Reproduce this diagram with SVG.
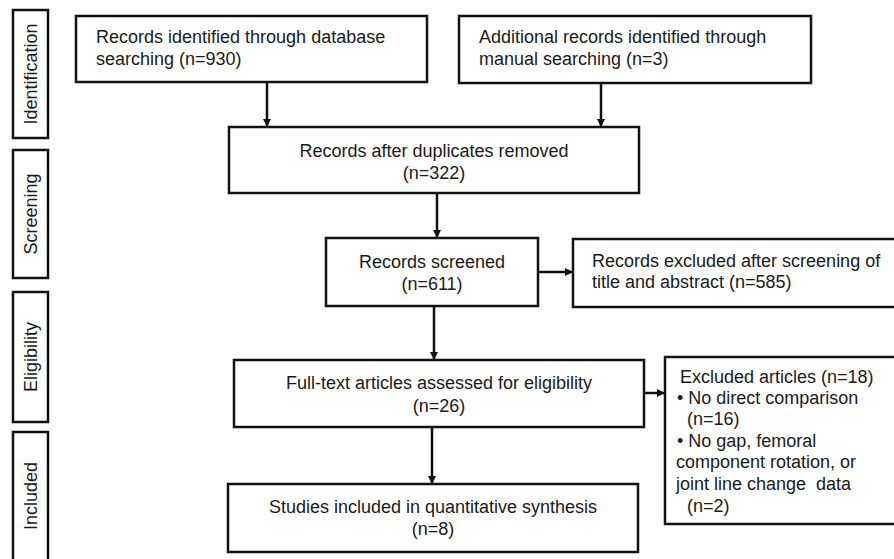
<svg xmlns="http://www.w3.org/2000/svg" width="894" height="559" viewBox="0 0 894 559">
<defs>
<style>
.box{fill:#fff;stroke:#111;stroke-width:2.5}
.side{fill:#fff;stroke:#111;stroke-width:2.5}
text{font-family:"Liberation Sans",Arial,sans-serif;font-size:18px;fill:#1a1a1a}
.c{text-anchor:middle}
.conn line{stroke:#111;stroke-width:2.5}
</style>
<marker id="ah" viewBox="0 0 10 10" refX="10" refY="5" markerWidth="8" markerHeight="8" markerUnits="userSpaceOnUse" orient="auto">
<path d="M0,0 L10,5 L0,10 z" fill="#111"/>
</marker>
</defs>
<rect width="894" height="559" fill="#fff"/>
<g id="stage-identification">
<rect class="side" x="13" y="10" width="35" height="128"/>
<text class="c" transform="translate(37,74) rotate(-90)">Identification</text>
</g>
<g id="stage-screening">
<rect class="side" x="13" y="150" width="35" height="128"/>
<text class="c" transform="translate(37,214) rotate(-90)">Screening</text>
</g>
<g id="stage-eligibility">
<rect class="side" x="13" y="292" width="35" height="130"/>
<text class="c" transform="translate(37,357) rotate(-90)">Eligibility</text>
</g>
<g id="stage-included">
<rect class="side" x="13" y="432" width="35" height="140"/>
<text class="c" transform="translate(37,496) rotate(-90)">Included</text>
</g>
<g id="n-database">
<rect class="box" x="76" y="16" width="351" height="66"/>
<text x="96" y="43">Records identified through database</text>
<text x="96" y="65">searching (n=930)</text>
</g>
<g id="n-manual">
<rect class="box" x="459" y="16" width="352" height="67"/>
<text x="479" y="43">Additional records identified through</text>
<text x="479" y="65">manual searching (n=3)</text>
</g>
<g id="n-duplicates">
<rect class="box" x="229" y="127" width="410" height="66"/>
<text class="c" x="434" y="157">Records after duplicates removed</text>
<text class="c" x="434" y="179">(n=322)</text>
</g>
<g id="n-screened">
<rect class="box" x="326" y="238" width="212" height="68"/>
<text class="c" x="432" y="268">Records screened</text>
<text class="c" x="432" y="290">(n=611)</text>
</g>
<g id="n-excluded-screen">
<rect class="box" x="573" y="239" width="330" height="68"/>
<text x="592" y="267">Records excluded after screening of</text>
<text x="592" y="288">title and abstract (n=585)</text>
</g>
<g id="n-fulltext">
<rect class="box" x="234" y="360" width="410" height="67"/>
<text class="c" x="439" y="389">Full-text articles assessed for eligibility</text>
<text class="c" x="439" y="412">(n=26)</text>
</g>
<g id="n-excluded-articles">
<rect class="box" x="665" y="357" width="240" height="167"/>
<text x="680" y="383">Excluded articles (n=18)</text>
<text x="677" y="404">• No direct comparison</text>
<text x="687" y="425">(n=16)</text>
<text x="677" y="447">• No gap, femoral</text>
<text x="676" y="468">component rotation, or</text>
<text x="676" y="490" xml:space="preserve">joint line change  data</text>
<text x="687" y="512">(n=2)</text>
</g>
<g id="n-included">
<rect class="box" x="228" y="484" width="410" height="68"/>
<text class="c" x="433" y="513">Studies included in quantitative synthesis</text>
<text class="c" x="433" y="535">(n=8)</text>
</g>
<g id="connectors" class="conn">
<line x1="267" y1="82" x2="267" y2="127" marker-end="url(#ah)"/>
<line x1="601" y1="83" x2="601" y2="127" marker-end="url(#ah)"/>
<line x1="437" y1="193" x2="437" y2="238" marker-end="url(#ah)"/>
<line x1="538" y1="272" x2="573" y2="272" marker-end="url(#ah)"/>
<line x1="434" y1="306" x2="434" y2="360" marker-end="url(#ah)"/>
<line x1="644" y1="393" x2="665" y2="393" marker-end="url(#ah)"/>
<line x1="432" y1="427" x2="432" y2="484" marker-end="url(#ah)"/>
</g>
</svg>
